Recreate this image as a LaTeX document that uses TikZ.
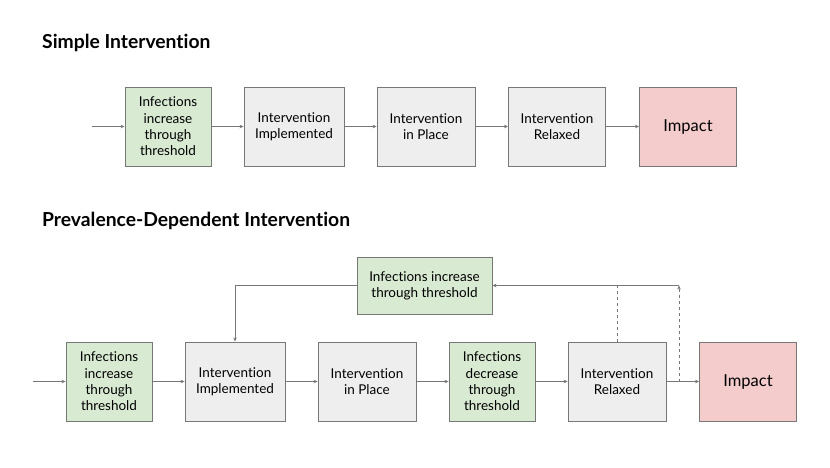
\documentclass[tikz,border=0pt]{standalone}
\usepackage{fontspec}
\setmainfont{Lato}[Ligatures={NoCommon}]
\usetikzlibrary{positioning, arrows.meta}

\definecolor{boxgreen}{HTML}{D9EAD3}
\definecolor{boxgray}{HTML}{EEEEEE}
\definecolor{boxpink}{HTML}{F4CCCC}
\definecolor{boxline}{HTML}{777777}

\begin{document}
\begin{tikzpicture}[x=1pt, y=-1pt, node distance=131pt, on grid,
	box/.style={draw=boxline, line width=0.9pt, minimum height=79pt, align=center, inner sep=2pt, font=\fontsize{13.5}{16.3}\selectfont},
	greenbox/.style={box, fill=boxgreen, minimum width=86pt},
	graybox/.style={box, fill=boxgray, minimum width=98pt},
	impactbox/.style={box, fill=boxpink, minimum width=97pt, font=\fontsize{16.5}{20}\selectfont},
	title/.style={anchor=west, inner sep=0pt, font=\fontsize{19.3}{22}\selectfont\bfseries},
	flow/.style={draw=boxline, line width=0.9pt, -{Stealth[length=4pt, width=3.5pt]}},
	hint/.style={draw=boxline, line width=0.9pt, dashed}]
	\useasboundingbox (0,0) rectangle (830,467);

	% simple intervention
	\node[title] (s_title) at (42,43) {Simple Intervention};
	\node[greenbox] (s_inc) at (168,126.5) {Infections\\increase\\through\\threshold};
	\node[graybox, minimum width=100pt] (s_impl) [right=126pt of s_inc] {Intervention\\Implemented};
	\node[graybox] (s_place) [right=132pt of s_impl] {Intervention\\in Place};
	\node[graybox, minimum width=97pt] (s_relax) [right=of s_place] {Intervention\\Relaxed};
	\node[impactbox] (s_impact) [right=of s_relax] {Impact};
	\coordinate (s_entry) at (92,126.5);
	\draw[flow] (s_entry) -- (s_inc);
	\path[flow]
	(s_inc) edge (s_impl)
	(s_impl) edge (s_place)
	(s_place) edge (s_relax)
	(s_relax) edge (s_impact);

	% prevalence-dependent intervention
	\node[title] (p_title) at (42,221) {Prevalence-Dependent Intervention};
	\node[greenbox] (p_inc) at (109,381.5) {Infections\\increase\\through\\threshold};
	\node[graybox, minimum width=100pt] (p_impl) [right=126pt of p_inc] {Intervention\\Implemented};
	\node[graybox] (p_place) [right=132pt of p_impl] {Intervention\\in Place};
	\node[greenbox] (p_dec) [right=125pt of p_place] {Infections\\decrease\\through\\threshold};
	\node[graybox] (p_relax) [right=125pt of p_dec] {Intervention\\Relaxed};
	\node[impactbox] (p_impact) [right=of p_relax] {Impact};
	\node[greenbox, minimum width=135pt, minimum height=57pt] (p_loop) at (424.5,285.5) {Infections increase\\through threshold};
	\coordinate (p_entry) at (33,381.5);
	\coordinate (p_split) at (679,381.5);
	\coordinate (p_corner) at (p_split |- p_loop);
	\draw[flow] (p_entry) -- (p_inc);
	\path[flow]
	(p_inc) edge (p_impl)
	(p_impl) edge (p_place)
	(p_place) edge (p_dec)
	(p_dec) edge (p_relax)
	(p_relax) edge (p_impact)
	(p_corner) edge (p_loop);
	\draw[flow] (p_loop.west) -| (p_impl.north);
	\draw[hint] (p_split) -- (p_corner);
	\draw[hint] (p_relax.north) -- (p_relax.north |- p_loop);
\end{tikzpicture}
\end{document}
